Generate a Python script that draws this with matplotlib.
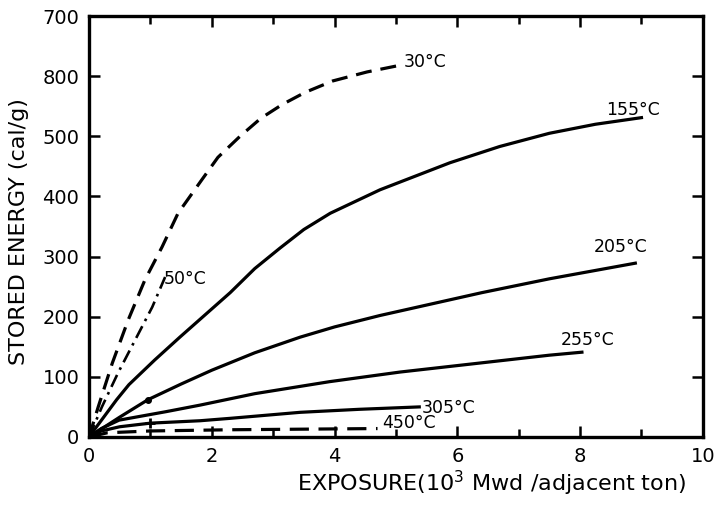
import matplotlib.pyplot as plt

# curve data
x_30 = [0, 0.15, 0.38, 0.64, 0.91, 1.19, 1.45, 1.84, 2.1, 2.46, 2.8, 3.15, 3.52, 3.97, 4.53, 5.11]
y_30 = [0, 50, 123, 195, 261, 316, 372, 428, 465, 500, 530, 553, 573, 592, 607, 619]

x_50 = [0, 0.21, 0.47, 0.75, 1.03, 1.24]
y_50 = [0, 50, 106, 161, 216, 266]

x_155 = [0, 0.45, 0.65, 1.07, 1.48, 2.3, 2.7, 3.11, 3.5, 3.93, 4.74, 5.88, 6.69, 7.5, 8.25, 9.0]
y_155 = [0, 62, 87, 128, 166, 240, 280, 314, 345, 372, 411, 456, 483, 505, 520, 531]

x_205 = [0, 0.5, 0.96, 1.5, 2.0, 2.7, 3.44, 4.0, 4.74, 6.4, 7.5, 8.9]
y_205 = [0, 33, 62, 88, 111, 140, 166, 183, 202, 240, 263, 289]

x_255 = [0, 0.2, 0.49, 1.25, 1.81, 2.7, 3.92, 5.07, 7.5, 8.03]
y_255 = [0, 14, 28, 42, 53, 72, 92, 108, 136, 141]

x_305 = [0, 0.2, 0.5, 1.0, 1.81, 2.3, 3.44, 4.4, 5.38]
y_305 = [0, 10, 17, 23, 27, 31, 41, 46, 50]

x_450 = [0, 0.3, 1.0, 2.3, 4.7]
y_450 = [0, 7, 10, 12, 14]

y_ticks = [0, 100, 200, 300, 400, 500, 600, 700]
y_tick_labels = ['0', '100', '200', '300', '400', '500', '800', '700']
x_ticks = [0, 2, 4, 6, 8, 10]

plt.rcParams['font.family'] = ['DejaVu Sans']

fig = plt.figure(figsize=(7.15, 5.05), dpi=100)
ax = fig.add_axes([0.1245, 0.1347, 0.8585, 0.8336])

lw = 2.3
ax.plot(x_30, y_30, color='black', lw=lw, dashes=(5, 2.8))
ax.plot(x_50, y_50, color='black', lw=1.9, dashes=(5, 2.2, 1, 2.2))
ax.plot(x_155, y_155, color='black', lw=lw)
ax.plot(x_205, y_205, color='black', lw=lw)
ax.plot(x_255, y_255, color='black', lw=lw)
ax.plot(x_305, y_305, color='black', lw=lw)
ax.plot(x_450, y_450, color='black', lw=lw, dashes=(6, 3))

# small data marks near the origin
ax.plot([x_205[2]], [y_205[2]], 'o', color='black', ms=4)
ax.plot([x_305[3]], [y_305[3]], '+', color='black', ms=7, mew=2)

fs = 12.5
ax.text(5.13, 623, '30°C', fontsize=fs, va='center', ha='left')
ax.text(1.22, 262, '50°C', fontsize=fs, va='center', ha='left')
ax.text(8.42, 544, '155°C', fontsize=fs, va='center', ha='left')
ax.text(8.22, 316, '205°C', fontsize=fs, va='center', ha='left')
ax.text(7.68, 161, '255°C', fontsize=fs, va='center', ha='left')
ax.text(5.42, 49, '305°C', fontsize=fs, va='center', ha='left')
ax.text(4.78, 24, '450°C', fontsize=fs, va='center', ha='left')

ax.set_xlim(0, 10)
ax.set_ylim(0, 700)
ax.set_xticks(x_ticks)
ax.set_xticks(range(1, 10), minor=True)
ax.set_yticks(y_ticks)
ax.set_yticklabels(y_tick_labels)
ax.tick_params(which='both', direction='in', top=True, right=True,
               width=1.8, labelsize=14, pad=7)
ax.tick_params(which='major', length=8)
ax.tick_params(which='minor', length=6)
for s in ax.spines.values():
    s.set_linewidth(2.4)

ax.set_xlabel('EXPOSURE(10$^3$ Mwd /adjacent ton)', fontsize=16)
ax.set_ylabel('STORED ENERGY (cal/g)', fontsize=16)
ax.xaxis.set_label_coords(0.655, -0.075)
ax.yaxis.set_label_coords(-0.097, 0.487)

plt.savefig('out.png', dpi=100)
